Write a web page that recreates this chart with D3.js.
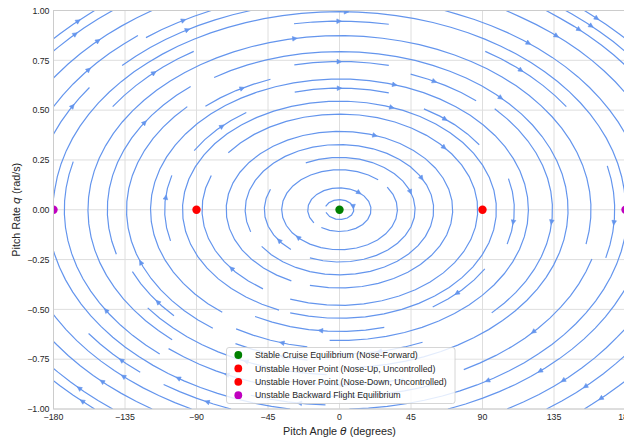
<!DOCTYPE html>
<html>
<head>
<meta charset="utf-8">
<script src="https://cdn.jsdelivr.net/npm/d3@7"></script>
<style>
  body { margin: 0; background: #fff; }
  svg { display: block; }
  text { font-family: "Liberation Sans", Arial, "DejaVu Sans", sans-serif; fill: #262626; }
  .math { font-family: "DejaVu Sans", sans-serif; font-style: italic; }
</style>
</head>
<body>
<svg id="chart" width="624" height="443"></svg>
<script>
// ---- chart data ----
const thetaDomain = [-180, 180];          // pitch angle, degrees
const rateDomain = [-1, 1];               // pitch rate, rad/s
const thetaTicks = [-180, -135, -90, -45, 0, 45, 90, 135, 180];
const rateTicks = [-1, -0.75, -0.5, -0.25, 0, 0.25, 0.5, 0.75, 1];

// pitch dynamics: dθ/dt = q, dq/dt = -stiffness * θ  (θ in rad)
const stiffness = 0.1;

// equilibrium markers
const eqTheta = [0, -90, 90, -180, 180];
const eqRate = [0, 0, 0, 0, 0];
const eqColor = ["#008000", "#ff0000", "#ff0000", "#bf00bf", "#bf00bf"];
const eqLabel = [
  "Stable Cruise Equilibrium (Nose-Forward)",
  "Unstable Hover Point (Nose-Up, Uncontrolled)",
  "Unstable Hover Point (Nose-Down, Uncontrolled)",
  "Unstable Backward Flight Equilibrium",
  null
];

// ---- layout ----
const svg = d3.select("#chart");
const plot = { left: 53.5, right: 625.5, top: 10.5, bottom: 409 };
const x = d3.scaleLinear().domain(thetaDomain).range([plot.left, plot.right]);
const y = d3.scaleLinear().domain(rateDomain).range([plot.bottom, plot.top]);
const minus = s => s.replace("-", "\u2212");

svg.append("defs").append("clipPath").attr("id", "plotClip")
  .append("rect")
  .attr("x", plot.left).attr("y", plot.top)
  .attr("width", plot.right - plot.left).attr("height", plot.bottom - plot.top);

// grid
const grid = svg.append("g");
grid.selectAll("line.gx").data(thetaTicks).join("line")
  .attr("x1", d => x(d)).attr("x2", d => x(d))
  .attr("y1", plot.top).attr("y2", plot.bottom)
  .attr("stroke", "#dedede").attr("stroke-width", 1);
grid.selectAll("line.gy").data(rateTicks).join("line")
  .attr("y1", d => y(d)).attr("y2", d => y(d))
  .attr("x1", plot.left).attr("x2", plot.right)
  .attr("stroke", "#dedede").attr("stroke-width", 1);

// ---- streamlines (matplotlib-style streamplot on a 30x30 occupancy mask) ----
const DEG = 180 / Math.PI;
const xSpan = thetaDomain[1] - thetaDomain[0];
const ySpan = rateDomain[1] - rateDomain[0];
function velocity(th, q) {
  return [q * DEG, -stiffness * th / DEG];
}
const OOB = { t: "oob" }, TERM = { t: "term" }, INVALID = { t: "invalid" };
const within = (a, b) => a >= 0 && a <= 1 && b >= 0 && b <= 1;
function fwd(a, b) {
  if (!within(a, b)) throw OOB;
  const [u, v] = velocity(thetaDomain[0] + a * xSpan, rateDomain[0] + b * ySpan);
  const un = u / xSpan, vn = v / ySpan;
  const sp = Math.hypot(un, vn);
  if (sp === 0) throw TERM;
  return [un / sp, vn / sp];
}
function bwd(a, b) { const r = fwd(a, b); return [-r[0], -r[1]]; }

const MN = 30;
const mask = new Uint8Array(MN * MN);
let curXY = null, traj = [];
function pyRound(v) {
  const fl = Math.floor(v);
  const diff = v - fl;
  if (diff === 0.5) return fl % 2 === 0 ? fl : fl + 1;
  return Math.round(v);
}
const toMask = (a, b) => [pyRound(a * (MN - 1)), pyRound(b * (MN - 1))];
function updateMask(xm, ym) {
  if (!curXY || curXY[0] !== xm || curXY[1] !== ym) {
    if (mask[ym * MN + xm] === 0) {
      traj.push(ym * MN + xm);
      mask[ym * MN + xm] = 1;
      curXY = [xm, ym];
    } else throw INVALID;
  }
}
function eulerStep(pts, f) {
  const [a, b] = pts[pts.length - 1];
  const [cx, cy] = f(a, b);
  const dsx = cx === 0 ? Infinity : (cx < 0 ? a / -cx : (1 - a) / cx);
  const dsy = cy === 0 ? Infinity : (cy < 0 ? b / -cy : (1 - b) / cy);
  const ds = Math.min(dsx, dsy);
  pts.push([a + cx * ds, b + cy * ds]);
  return ds;
}
function rk12(a0, b0, f, maxlength) {
  const maxerror = 0.003, maxds = 1 / MN;
  let ds = maxds, stotal = 0, a = a0, b = b0;
  const pts = [];
  while (true) {
    let k1, k2;
    try {
      if (within(a, b)) pts.push([a, b]); else throw OOB;
      k1 = f(a, b);
      k2 = f(a + ds * k1[0], b + ds * k1[1]);
    } catch (e) {
      if (e === OOB) { if (pts.length) stotal += eulerStep(pts, f); break; }
      if (e === TERM) break;
      throw e;
    }
    const dx1 = ds * k1[0], dy1 = ds * k1[1];
    const dx2 = ds * 0.5 * (k1[0] + k2[0]), dy2 = ds * 0.5 * (k1[1] + k2[1]);
    const err = Math.hypot(dx2 - dx1, dy2 - dy1);
    if (err < maxerror) {
      a += dx2; b += dy2;
      try {
        if (!within(a, b)) throw INVALID;
        const [xm, ym] = toMask(a, b);
        updateMask(xm, ym);
      } catch (e) { if (e === INVALID) break; throw e; }
      if (stotal + ds > maxlength) break;
      stotal += ds;
    }
    ds = err === 0 ? maxds : Math.min(maxds, 0.85 * ds * Math.sqrt(maxerror / err));
  }
  return [stotal, pts];
}
function integrate(a0, b0) {
  const minlength = 0.1, maxlength = 4.0;
  traj = [];
  try { const [xm, ym] = toMask(a0, b0); updateMask(xm, ym); }
  catch (e) { if (e === INVALID) return null; throw e; }
  let stotal = 0, out = [];
  const [s1, back] = rk12(a0, b0, bwd, maxlength);
  stotal += s1; out = out.concat(back.reverse());
  curXY = toMask(a0, b0);
  const [s2, fw] = rk12(a0, b0, fwd, maxlength);
  stotal += s2; out = out.concat(fw.slice(1));
  if (stotal > minlength) return out;
  traj.forEach(i => { mask[i] = 0; });
  return null;
}
function* seeds(nx, ny) {
  let xfirst = 0, yfirst = 1, xlast = nx - 1, ylast = ny - 1, px = 0, py = 0, dir = "right";
  for (let i = 0; i < nx * ny; i++) {
    yield [px, py];
    if (dir === "right") { px += 1; if (px >= xlast) { xlast -= 1; dir = "up"; } }
    else if (dir === "up") { py += 1; if (py >= ylast) { ylast -= 1; dir = "left"; } }
    else if (dir === "left") { px -= 1; if (px <= xfirst) { xfirst += 1; dir = "down"; } }
    else { py -= 1; if (py <= yfirst) { yfirst += 1; dir = "right"; } }
  }
}
const streamlines = [];
for (const [xm, ym] of seeds(MN, MN)) {
  if (mask[ym * MN + xm] === 0) {
    const t = integrate(xm / (MN - 1), ym / (MN - 1));
    if (t) streamlines.push(t.map(([a, b]) => [thetaDomain[0] + a * xSpan, rateDomain[0] + b * ySpan]));
  }
}

const flowColor = "#6495ed";
const flow = svg.append("g").attr("clip-path", "url(#plotClip)");
const line = d3.line().x(d => x(d[0])).y(d => y(d[1]));
flow.selectAll("path.stream").data(streamlines).join("path")
  .attr("d", line)
  .attr("fill", "none").attr("stroke", flowColor)
  .attr("stroke-width", 1.2).attr("stroke-linecap", "butt");

// arrowheads at the midpoint (by arc length) of each streamline
const heads = streamlines.filter(t => t.length > 1).map(t => {
  let s = 0; const cum = [];
  for (let i = 1; i < t.length; i++) { s += Math.hypot(t[i][0] - t[i - 1][0], t[i][1] - t[i - 1][1]); cum.push(s); }
  const half = s / 2;
  let n = cum.findIndex(c => c >= half); if (n < 0) n = cum.length - 1;
  const tail = t[n];
  const nxt = t[Math.min(n + 1, t.length - 1)];
  const head = [(tail[0] + nxt[0]) / 2, (tail[1] + nxt[1]) / 2];
  return { tail, head };
});
const HL = 4.6, HW = 2.3;
flow.selectAll("path.head").data(heads).join("path")
  .attr("d", d => {
    const tx = x(d.tail[0]), ty = y(d.tail[1]), hx = x(d.head[0]), hy = y(d.head[1]);
    let dx = hx - tx, dy = hy - ty; const L = Math.hypot(dx, dy) || 1; dx /= L; dy /= L;
    const bx = hx - dx * HL, by = hy - dy * HL;
    return `M${hx},${hy}L${bx - dy * HW},${by + dx * HW}L${bx + dy * HW},${by - dx * HW}Z`;
  })
  .attr("fill", flowColor).attr("stroke", flowColor).attr("stroke-width", 0.6);

// equilibrium points
const eq = eqTheta.map((t, i) => ({ t, q: eqRate[i], c: eqColor[i], label: eqLabel[i] }));
svg.append("g").attr("clip-path", "url(#plotClip)")
  .selectAll("circle").data(eq).join("circle")
  .attr("cx", d => x(d.t)).attr("cy", d => y(d.q)).attr("r", 4.2)
  .attr("fill", d => d.c);

// frame
svg.append("rect")
  .attr("x", plot.left).attr("y", plot.top)
  .attr("width", plot.right - plot.left).attr("height", plot.bottom - plot.top)
  .attr("fill", "none").attr("stroke", "#cccccc").attr("stroke-width", 1);

// tick labels
svg.append("g").selectAll("text").data(thetaTicks).join("text")
  .attr("x", d => x(d)).attr("y", 419.5)
  .attr("text-anchor", "middle").attr("font-size", 8.8)
  .text(d => minus(String(d)));
svg.append("g").selectAll("text").data(rateTicks).join("text")
  .attr("x", 49.5).attr("y", d => y(d) + 3.2)
  .attr("text-anchor", "end").attr("font-size", 8.8)
  .text(d => minus(d3.format(".2f")(d)));

// axis titles
const xt = svg.append("text").attr("x", x(0)).attr("y", 434.5)
  .attr("text-anchor", "middle").attr("font-size", 10.8);
xt.append("tspan").text("Pitch Angle ");
xt.append("tspan").attr("class", "math").text("\u03b8");
xt.append("tspan").text(" (degrees)");

const yt = svg.append("text")
  .attr("transform", `translate(20,${y(0)}) rotate(-90)`)
  .attr("text-anchor", "middle").attr("font-size", 10.8);
yt.append("tspan").text("Pitch Rate ");
yt.append("tspan").attr("class", "math").text("q");
yt.append("tspan").text(" (rad/s)");

// legend
const legendItems = eq.filter(d => d.label);
const lg = svg.append("g");
lg.append("rect")
  .attr("x", 226.5).attr("y", 347.5).attr("width", 228.5).attr("height", 56)
  .attr("rx", 2.5).attr("fill", "#ffffff").attr("fill-opacity", 0.82)
  .attr("stroke", "#cccccc").attr("stroke-width", 0.8);
const rows = lg.selectAll("g.row").data(legendItems).join("g")
  .attr("transform", (d, i) => `translate(0,${355 + i * 13.4})`);
rows.append("circle").attr("cx", 238.3).attr("cy", 0).attr("r", 3.9).attr("fill", d => d.c);
rows.append("text").attr("x", 255).attr("y", 3.1).attr("font-size", 8.8).text(d => d.label);
</script>
</body>
</html>
